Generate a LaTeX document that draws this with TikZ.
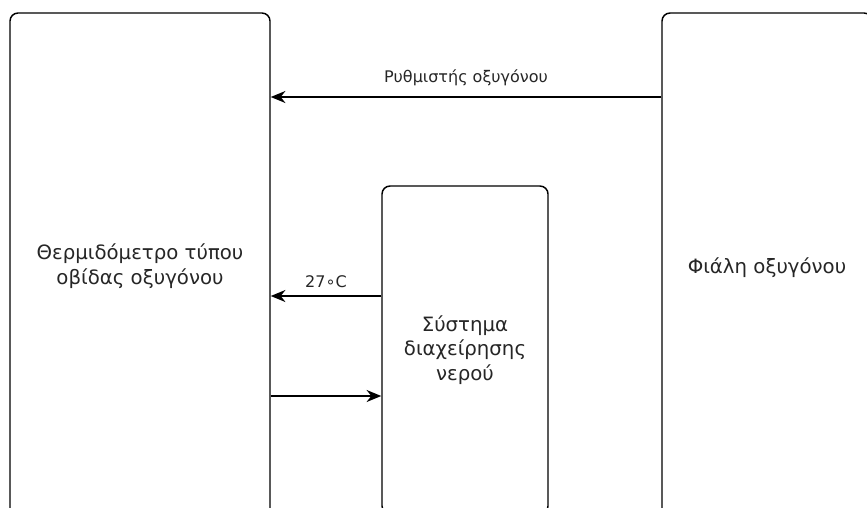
\documentclass[tikz,border=0pt]{standalone}
\usepackage{fontspec}
\setmainfont{DejaVu Sans}
\usetikzlibrary{arrows.meta}
\tikzset{
  block/.style={draw, line width=1.1pt, rounded corners=6pt, align=center,
    inner sep=0pt, font=\fontsize{14.8}{18.5}\selectfont, text=black!85},
  link/.style={line width=1.1pt, -{Stealth[length=11pt,width=9pt,inset=3.5pt]}},
  tag/.style={font=\fontsize{12}{13}\selectfont, text=black!85, inner sep=0pt}
}
\begin{document}
\begin{tikzpicture}[x=0.75pt, y=-0.75pt]
  \useasboundingbox (0,0) rectangle (867,507);
  \clip (0,0) rectangle (867,507);
  % blocks (their lower parts run past the frame)
  \node[block, minimum width=195pt, minimum height=379.5pt] (calor) at (140,266)
    {Θερμιδόμετρο τύπου\\οβίδας οξυγόνου};
  \node[block, minimum width=124.5pt, minimum height=246pt] (water) at (465,350)
    {Σύστημα\\διαχείρησης\\νερού};
  \node[block, minimum width=157.5pt, minimum height=382.5pt] (tank) at (767,268)
    {Φιάλη οξυγόνου};
  % heights of the connectors
  \coordinate (h1) at (0,97);
  \coordinate (h2) at (0,296);
  \coordinate (h3) at (0,396);
  % connectors
  \draw[link] (tank.west |- h1) -- node[tag, above=8pt] (reg) {Ρυθμιστής οξυγόνου} (calor.east |- h1);
  \draw[link] (water.west |- h2) -- node[tag, above=6pt] (temp) {27∘C} (calor.east |- h2);
  \draw[link] (calor.east |- h3) -- (water.west |- h3);
\end{tikzpicture}
\end{document}
